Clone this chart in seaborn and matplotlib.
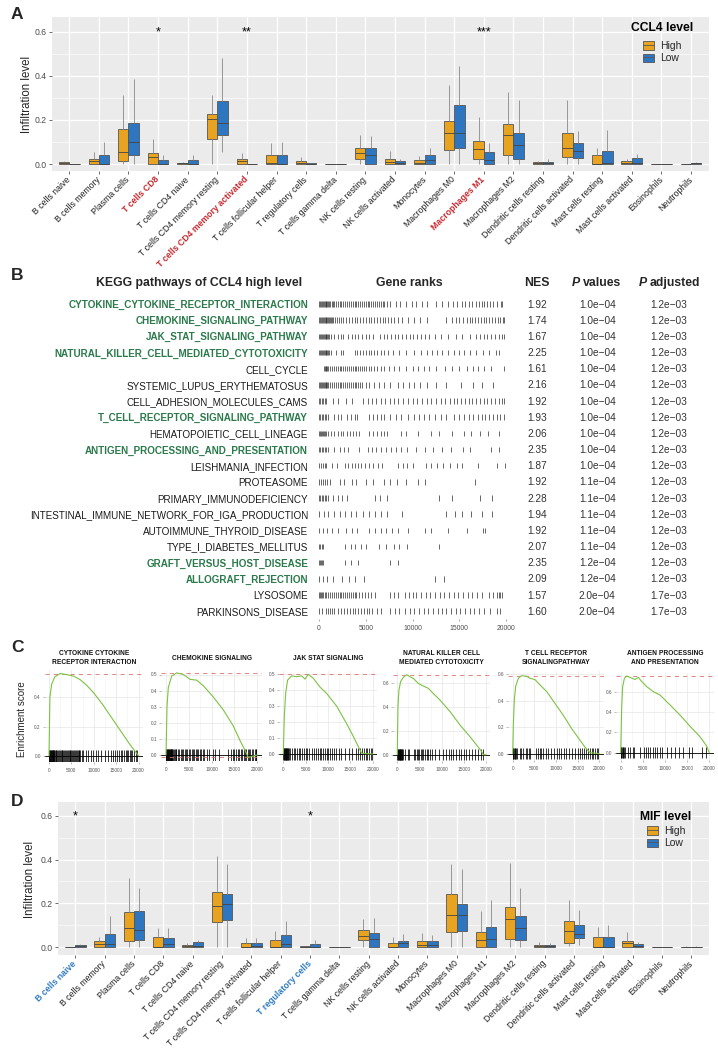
import numpy as np
import pandas as pd
import matplotlib
matplotlib.use("Agg")
import matplotlib.pyplot as plt
import seaborn as sns
from matplotlib.patches import Patch
from matplotlib.lines import Line2D
from matplotlib.transforms import blended_transform_factory

# ======================= DATA =======================
cells = ["B cells naive", "B cells memory", "Plasma cells", "T cells CD8", "T cells CD4 naive",
         "T cells CD4 memory resting", "T cells CD4 memory activated", "T cells follicular helper",
         "T regulatory cells", "T cells gamma delta", "NK cells resting", "NK cells activated",
         "Monocytes", "Macrophages M0", "Macrophages M1", "Macrophages M2",
         "Dendritic cells resting", "Dendritic cells activated", "Mast cells resting",
         "Mast cells activated", "Eosinophils", "Neutrophils"]

# five-number summaries (min, q1, median, q3, max)
ccl4_high = [[0, 0, 0.004, 0.01, 0.015], [0, 0, 0.012, 0.023, 0.055], [0, 0.014, 0.055, 0.16, 0.315],
             [0, 0, 0.032, 0.05, 0.115], [0, 0, 0.003, 0.006, 0.01], [0, 0.112, 0.203, 0.226, 0.315],
             [0, 0, 0.012, 0.021, 0.05], [0, 0, 0.005, 0.039, 0.095], [0, 0, 0.003, 0.015, 0.033],
             [0, 0, 0, 0, 0], [0, 0.024, 0.05, 0.074, 0.13], [0, 0, 0.011, 0.024, 0.058],
             [0, 0, 0.006, 0.017, 0.035], [0, 0.064, 0.142, 0.194, 0.357], [0, 0.024, 0.067, 0.105, 0.214],
             [0, 0.042, 0.133, 0.182, 0.326], [0, 0, 0.003, 0.008, 0.015], [0, 0.03, 0.071, 0.142, 0.29],
             [0, 0, 0, 0.039, 0.071], [0, 0, 0.005, 0.012, 0.024], [0, 0, 0, 0, 0], [0, 0, 0, 0, 0.001]]
ccl4_low = [[0, 0, 0, 0, 0], [0, 0, 0, 0.042, 0.1], [0, 0.042, 0.1, 0.186, 0.385],
            [0, 0, 0, 0.02, 0.04], [0, 0, 0, 0.02, 0.04], [0.055, 0.13, 0.188, 0.285, 0.483],
            [0, 0, 0, 0, 0.002], [0, 0, 0, 0.041, 0.1], [0, 0, 0.001, 0.003, 0.004],
            [0, 0, 0, 0, 0], [0, 0, 0.04, 0.074, 0.128], [0, 0, 0.006, 0.012, 0.024],
            [0, 0, 0.02, 0.04, 0.073], [0, 0.073, 0.142, 0.267, 0.447], [0, 0, 0.017, 0.053, 0.097],
            [0, 0.024, 0.088, 0.142, 0.29], [0, 0, 0.005, 0.011, 0.023], [0, 0.027, 0.06, 0.094, 0.15],
            [0, 0, 0.005, 0.06, 0.153], [0, 0, 0.006, 0.026, 0.044], [0, 0, 0, 0, 0], [0, 0.002, 0.004, 0.006, 0.008]]
ccl4_star_idx = [3, 6, 14]
ccl4_star_txt = ["*", "**", "***"]
ccl4_red_labels = [3, 6, 14]

mif_high = [[0, 0, 0, 0.001, 0.002], [0, 0, 0.015, 0.026, 0.047], [0, 0.026, 0.087, 0.162, 0.316],
            [0, 0, 0.002, 0.044, 0.087], [0, 0, 0.005, 0.011, 0.02], [0, 0.116, 0.189, 0.252, 0.418],
            [0, 0, 0, 0.02, 0.04], [0, 0, 0, 0.032, 0.072], [0, 0, 0.001, 0.003, 0.004],
            [0, 0, 0, 0, 0], [0, 0.031, 0.049, 0.076, 0.128], [0, 0, 0, 0.018, 0.046],
            [0, 0, 0.009, 0.027, 0.064], [0, 0.067, 0.148, 0.243, 0.38], [0, 0, 0.034, 0.069, 0.163],
            [0, 0.038, 0.128, 0.182, 0.385], [0, 0, 0.003, 0.011, 0.023], [0.005, 0.018, 0.072, 0.12, 0.215],
            [0, 0, 0, 0.046, 0.092], [0, 0, 0.018, 0.027, 0.067], [0, 0, 0, 0, 0], [0, 0.001, 0.002, 0.002, 0.003]]
mif_low = [[0, 0, 0.004, 0.009, 0.014], [0, 0, 0.015, 0.06, 0.14], [0, 0.032, 0.079, 0.165, 0.27],
           [0, 0.002, 0.014, 0.041, 0.087], [0, 0, 0.006, 0.021, 0.034], [0, 0.122, 0.197, 0.244, 0.38],
           [0, 0, 0.004, 0.02, 0.04], [0, 0, 0.015, 0.053, 0.12], [0, 0, 0.002, 0.015, 0.034],
           [0, 0, 0, 0, 0], [0, 0, 0.037, 0.066, 0.133], [0, 0, 0.02, 0.026, 0.061],
           [0, 0, 0.011, 0.027, 0.056], [0, 0.072, 0.145, 0.195, 0.359], [0, 0, 0.035, 0.09, 0.217],
           [0, 0.032, 0.087, 0.144, 0.27], [0, 0, 0.004, 0.009, 0.02], [0.008, 0.041, 0.06, 0.099, 0.168],
           [0, 0, 0, 0.046, 0.1], [0, 0, 0.005, 0.014, 0.024], [0, 0, 0, 0, 0], [0, 0.001, 0.002, 0.002, 0.003]]
mif_star_idx = [0, 8]
mif_star_txt = ["*", "*"]
mif_blue_labels = [0, 8]

kegg_pathways = ["CYTOKINE_CYTOKINE_RECEPTOR_INTERACTION", "CHEMOKINE_SIGNALING_PATHWAY",
                 "JAK_STAT_SIGNALING_PATHWAY", "NATURAL_KILLER_CELL_MEDIATED_CYTOTOXICITY",
                 "CELL_CYCLE", "SYSTEMIC_LUPUS_ERYTHEMATOSUS", "CELL_ADHESION_MOLECULES_CAMS",
                 "T_CELL_RECEPTOR_SIGNALING_PATHWAY", "HEMATOPOIETIC_CELL_LINEAGE",
                 "ANTIGEN_PROCESSING_AND_PRESENTATION", "LEISHMANIA_INFECTION", "PROTEASOME",
                 "PRIMARY_IMMUNODEFICIENCY", "INTESTINAL_IMMUNE_NETWORK_FOR_IGA_PRODUCTION",
                 "AUTOIMMUNE_THYROID_DISEASE", "TYPE_I_DIABETES_MELLITUS", "GRAFT_VERSUS_HOST_DISEASE",
                 "ALLOGRAFT_REJECTION", "LYSOSOME", "PARKINSONS_DISEASE"]
kegg_green = [0, 1, 2, 3, 7, 9, 16, 17]
kegg_nes = ["1.92", "1.74", "1.67", "2.25", "1.61", "2.16", "1.92", "1.93", "2.06", "2.35",
            "1.87", "1.92", "2.28", "1.94", "1.92", "2.07", "2.35", "2.09", "1.57", "1.60"]
kegg_pval = ["1.0e\u221204"] * 11 + ["1.1e\u221204"] * 5 + ["1.2e\u221204"] * 2 + ["2.0e\u221204"] * 2
kegg_padj = ["1.2e\u221203"] * 18 + ["1.7e\u221203"] * 2

# gene-rank positions (in thousands) of pathway members, read from the barcodes
hits_k = [
    [0, 0.1, 0.2, 0.3, 0.4, 0.5, 0.6, 0.7, 0.8, 0.9, 1.0, 1.1, 1.2, 1.35, 1.5, 1.65, 1.8, 2.0, 2.2, 2.4, 2.6, 2.8,
     3.0, 3.2, 3.4, 3.6, 3.8, 4.0, 4.2, 4.4, 4.6, 4.8, 5.0, 5.2, 5.4, 5.6, 5.8, 6.0, 6.2, 6.4, 6.6, 6.8, 7.0, 7.3,
     7.6, 8.2, 8.7, 9.3, 9.9, 10.4, 11.0, 11.6, 12.5, 13.2, 13.8, 14.3, 14.8, 15.3, 15.6, 16.0, 16.4, 16.8, 17.1,
     17.4, 17.7, 18.0, 18.3, 18.6, 19.0, 19.5, 19.6],
    [0, 0.1, 0.2, 0.3, 0.4, 0.5, 0.6, 0.7, 0.8, 0.9, 1.0, 1.1, 1.2, 1.3, 1.4, 1.5, 1.7, 1.9, 2.1, 2.3, 2.6, 2.9,
     3.2, 3.5, 3.8, 4.1, 4.4, 4.7, 5.0, 5.3, 5.6, 5.9, 6.2, 6.5, 6.8, 7.1, 7.4, 7.7, 8.0, 8.4, 8.9, 9.5, 10.2,
     10.8, 11.6, 13.6, 14.2, 14.6, 15.0, 15.4, 15.8, 16.1, 16.4, 16.7, 17.0, 17.3, 17.6, 17.9, 18.2, 18.5, 18.8,
     19.1, 19.4, 19.7, 19.8],
    [0, 0.1, 0.2, 0.3, 0.4, 0.5, 0.6, 0.7, 0.8, 0.9, 1.0, 1.1, 1.3, 1.6, 2.0, 2.3, 2.6, 3.1, 3.5, 3.8, 4.2, 4.6,
     5.0, 5.4, 5.8, 6.5, 6.9, 7.3, 7.7, 8.1, 8.5, 8.9, 9.3, 9.7, 10.1, 10.5, 10.9, 11.3, 11.8, 12.4, 13.0, 13.8,
     14.6, 15.3, 16.2, 16.8, 17.2, 17.6, 18.0, 18.4, 18.8, 19.2, 19.6, 19.8],
    [0, 0.1, 0.2, 0.3, 0.4, 0.5, 0.6, 0.7, 0.8, 0.9, 1.0, 1.1, 1.3, 1.8, 2.3, 2.6, 3.8, 4.1, 4.4, 4.7, 5.0, 5.3,
     5.6, 5.9, 6.2, 6.6, 7.0, 7.4, 7.9, 8.6, 9.3, 10.2, 10.9, 11.6, 12.1, 12.6, 13.2, 13.8, 14.4, 15.0, 15.5,
     16.2, 16.8, 17.5, 18.2, 18.9, 19.3],
    [0.5, 0.6, 0.7, 0.8, 0.9, 1.0, 1.2, 1.4, 1.6, 1.8, 2.0, 2.2, 2.4, 2.6, 2.8, 3.0, 3.2, 3.4, 3.6, 3.8, 4.0, 4.2,
     4.4, 4.6, 4.8, 5.0, 5.3, 5.6, 5.9, 6.2, 6.6, 7.0, 7.5, 8.0, 8.6, 9.3, 10.0, 10.6, 11.2, 11.8, 12.5, 13.5,
     14.2, 15.0, 15.8, 16.5, 17.0, 17.6, 18.4, 19.8],
    [0, 0.1, 0.2, 0.3, 0.4, 0.5, 0.6, 0.7, 0.8, 0.9, 1.0, 1.2, 1.4, 1.6, 1.8, 2.0, 2.2, 2.4, 2.6, 2.8, 3.0, 3.2,
     3.4, 3.6, 3.8, 4.0, 4.2, 4.4, 4.6, 5.0, 5.4, 5.9, 6.4, 7.0, 7.6, 8.5, 9.0, 9.6, 10.2, 10.8, 11.5, 12.5,
     13.6, 15.2, 16.5, 17.4, 18.6],
    [0, 0.15, 0.3, 0.45, 0.6, 0.8, 1.5, 2.0, 2.9, 3.5, 4.7, 5.2, 5.7, 6.1, 6.6, 7.1, 7.6, 8.0, 8.5, 9.0, 9.5,
     10.0, 10.5, 11.0, 11.5, 12.0, 12.5, 13.0, 13.5, 14.0, 14.4, 14.8, 15.2, 15.6, 16.0, 16.4, 16.8, 17.2, 17.6,
     18.0, 18.4, 18.8, 19.2, 19.6, 19.8],
    [0, 0.15, 0.3, 0.45, 0.6, 0.8, 1.0, 1.6, 2.0, 2.3, 3.0, 3.4, 3.8, 4.1, 5.3, 5.8, 6.2, 6.6, 7.0, 7.6, 8.2,
     8.8, 9.5, 10.2, 10.7, 11.2, 11.8, 12.4, 13.0, 13.6, 14.4, 15.0, 15.5, 16.0, 16.5, 17.0, 17.4, 17.8, 18.2,
     18.6, 19.0, 19.4, 19.8],
    [0, 0.1, 0.2, 0.3, 0.4, 0.5, 0.6, 0.8, 1.0, 1.3, 1.6, 2.0, 2.3, 2.6, 3.0, 3.3, 3.6, 4.0, 4.3, 5.4, 5.8, 6.2,
     6.6, 7.0, 7.3, 8.8, 9.3, 10.6, 12.0, 12.8, 14.2, 15.5, 16.3, 17.2, 18.1, 19.2],
    [0, 0.15, 0.3, 0.45, 0.6, 0.8, 1.0, 1.6, 2.2, 2.7, 3.1, 4.3, 5.2, 5.7, 6.1, 6.6, 7.2, 7.7, 8.2, 8.8, 9.4,
     10.4, 11.3, 12.2, 13.2, 14.1, 15.4, 16.2, 18.4, 19.2],
    [0, 0.2, 0.4, 0.6, 0.8, 1.4, 1.9, 2.8, 3.1, 3.5, 3.9, 4.2, 4.5, 4.9, 5.3, 5.8, 6.3, 6.7, 8.5, 9.0, 9.4,
     10.1, 11.4, 12.0, 12.6, 13.3, 14.0, 14.8, 15.3, 17.0, 19.0, 19.9],
    [0, 0.2, 0.4, 0.6, 0.9, 1.2, 2.2, 2.7, 3.5, 4.0, 5.0, 5.8, 7.0, 7.6, 8.3, 9.3, 10.6, 11.3, 16.7],
    [0, 0.15, 0.3, 0.45, 0.6, 0.8, 1.0, 1.5, 2.0, 2.5, 3.0, 6.0, 6.5, 7.3, 12.8, 14.2, 17.2, 18.5],
    [0, 0.5, 1.0, 1.6, 2.2, 2.8, 3.4, 4.0, 4.7, 5.4, 6.0, 6.6, 7.3, 8.9, 13.6, 14.5, 15.3, 16.3, 17.4, 18.5],
    [0, 0.4, 0.9, 1.4, 2.0, 2.9, 3.5, 4.1, 5.3, 6.0, 6.6, 7.2, 7.8, 8.4, 9.5, 11.3, 12.0, 13.8, 15.8, 17.5, 17.8],
    [0, 0.15, 0.3, 0.45, 2.8, 3.4, 3.9, 4.5, 5.0, 6.4, 7.2, 8.0, 8.6, 9.4, 12.8],
    [0, 0.1, 0.2, 0.3, 0.45, 2.8, 3.4, 4.2, 7.6, 8.4],
    [0, 0.4, 0.9, 1.5, 2.5, 3.2, 3.9, 4.8, 12.4, 13.4],
    [0, 0.1, 0.2, 0.3, 0.4, 0.6, 0.8, 1.0, 1.2, 1.4, 1.6, 1.8, 2.0, 2.2, 2.4, 2.6, 2.8, 3.0, 3.2, 3.4, 3.6, 3.8,
     4.0, 4.3, 4.6, 4.9, 5.2, 5.6, 6.0, 7.6, 8.0, 8.4, 9.2, 9.6, 10.0, 10.4, 10.9, 11.4, 11.9, 12.4, 12.9, 13.4,
     13.9, 14.4, 14.9, 15.4, 15.9, 16.4, 16.9, 17.4, 18.2, 18.6, 19.0, 19.2, 19.4, 19.6],
    [0, 0.3, 0.8, 1.0, 1.2, 1.4, 1.6, 2.0, 2.4, 2.7, 3.0, 3.3, 3.6, 3.9, 4.2, 4.5, 4.8, 5.1, 5.4, 5.7, 6.2, 6.6,
     7.6, 8.1, 8.6, 9.2, 9.7, 10.2, 10.7, 11.2, 11.7, 12.2, 12.7, 13.2, 13.6, 14.1, 14.6, 15.1, 15.6, 16.1, 16.6,
     17.1, 17.6, 18.3, 19.0, 19.4],
]

# GSEA running enrichment curves (rank, ES)
gsea_titles = ["CYTOKINE CYTOKINE\nRECEPTOR INTERACTION", "CHEMOKINE SIGNALING", "JAK STAT SIGNALING",
               "NATURAL KILLER CELL\nMEDIATED CYTOTOXICITY", "T CELL RECEPTOR\nSIGNALINGPATHWAY",
               "ANTIGEN PROCESSING\nAND PRESENTATION"]
gsea_pathway_idx = [0, 1, 2, 3, 7, 9]
gsea_rank = [
    [0, 200, 600, 1300, 2500, 4000, 5500, 7000, 8500, 10000, 12000, 14000, 16000, 18000, 19500, 20000],
    [0, 220, 510, 1240, 2340, 3800, 5260, 6720, 8180, 10370, 12560, 14750, 16210, 17300, 18030, 20000],
    [0, 224, 522, 970, 1865, 2984, 4100, 4850, 5600, 6710, 8200, 9700, 11940, 14170, 15670, 16790, 17530, 20000],
    [0, 150, 376, 752, 1354, 2106, 2858, 3610, 4738, 5866, 6994, 8122, 9626, 11882, 14138, 16394, 17898, 19026, 19400, 20000],
    [0, 154, 384, 692, 1300, 2075, 3230, 3990, 5150, 6300, 7840, 9770, 11690, 13610, 15150, 16690, 17840, 20000],
    [0, 226, 451, 827, 1354, 2106, 3234, 3986, 4738, 5866, 7370, 8874, 11130, 13386, 15642, 17898, 19402, 20000],
]
gsea_es = [
    [0, 0.40, 0.49, 0.54, 0.563, 0.555, 0.545, 0.52, 0.48, 0.43, 0.35, 0.26, 0.17, 0.08, 0.02, 0],
    [0, 0.30, 0.42, 0.49, 0.51, 0.50, 0.47, 0.465, 0.43, 0.36, 0.28, 0.18, 0.09, 0.03, -0.015, 0],
    [0, 0.234, 0.38, 0.464, 0.49, 0.485, 0.49, 0.47, 0.50, 0.475, 0.42, 0.38, 0.30, 0.19, 0.11, 0.046, 0.004, 0],
    [0, 0.40, 0.54, 0.61, 0.644, 0.667, 0.65, 0.636, 0.594, 0.572, 0.553, 0.51, 0.455, 0.36, 0.247, 0.15, 0.08, 0.025, 0, 0],
    [0, 0.23, 0.41, 0.51, 0.57, 0.59, 0.585, 0.57, 0.56, 0.52, 0.47, 0.38, 0.29, 0.19, 0.12, 0.05, 0.008, 0],
    [0, 0.45, 0.65, 0.73, 0.754, 0.74, 0.72, 0.74, 0.70, 0.65, 0.60, 0.567, 0.47, 0.37, 0.26, 0.157, 0.066, 0],
]
gsea_yticks = [[0, 0.2, 0.4], [0, 0.1, 0.2, 0.3, 0.4, 0.5], [0, 0.1, 0.2, 0.3, 0.4, 0.5],
               [0, 0.2, 0.4, 0.6], [0, 0.2, 0.4, 0.6], [0, 0.2, 0.4, 0.6]]

# ======================= STYLE / LAYOUT =======================
sns.set_theme(style="white")
plt.rcParams["font.family"] = ["Liberation Sans", "DejaVu Sans"]

W, H = 718, 1052
fig = plt.figure(figsize=(W / 100, H / 100), dpi=100)
fig.patch.set_facecolor("white")

HIGH = "#E8A321"
LOW = "#2E77C0"
EDGE = "#555555"
RED = "#C5282F"
BLUE = "#2F7BC0"
GREEN_TXT = "#2B7A4B"
CURVE = "#7DC243"


def add_ax(x0, y0, x1, y1):
    return fig.add_axes([x0 / W, 1 - y1 / H, (x1 - x0) / W, (y1 - y0) / H])


def px(x, y):
    return x / W, 1 - y / H


def box_panel(ax, high, low, ylim, star_idx, star_txt, lab_idx, lab_color):
    rows = []
    for i, c in enumerate(cells):
        for g, st in (("High", high[i]), ("Low", low[i])):
            for v in st:
                rows.append((c, g, v))
    df = pd.DataFrame(rows, columns=["cell", "group", "value"])
    sns.boxplot(data=df, x="cell", y="value", hue="group", order=cells, hue_order=["High", "Low"],
                palette={"High": HIGH, "Low": LOW}, saturation=1, width=0.7, gap=0,
                whis=(0, 100), linewidth=0.6, linecolor=EDGE, fliersize=0, legend=False, ax=ax,
                whiskerprops={"color": "#8a8a8a"}, capprops={"alpha": 0},
                medianprops={"color": "#444444"})
    ax.set_xlim(-0.6, 21.6)
    ax.set_ylim(*ylim)
    ax.set_facecolor("#EBEBEB")
    for s in ax.spines.values():
        s.set_visible(False)
    ax.set_axisbelow(True)
    ax.set_yticks([0, 0.2, 0.4, 0.6])
    ax.set_yticklabels(["0.0", "0.2", "0.4", "0.6"])
    ax.set_yticks([0.1, 0.3, 0.5], minor=True)
    ax.grid(True, which="major", color="white", lw=0.9)
    ax.grid(True, which="minor", axis="y", color="white", lw=0.45)
    ax.tick_params(which="minor", length=0)
    ax.tick_params(which="major", length=2.2, width=0.6, color="#555555", labelcolor="#4D4D4D",
                   labelsize=6.2, pad=1.5, left=True, bottom=True)
    ax.tick_params(axis="x", pad=3.0)
    ax.set_xticks(range(len(cells)))
    ax.set_xticklabels(cells, rotation=45, ha="right", va="center", rotation_mode="anchor",
                       fontsize=6.3, color="#222222")
    for i in lab_idx:
        lab = ax.get_xticklabels()[i]
        lab.set_color(lab_color)
        lab.set_fontweight("bold")
    ax.set_xlabel("")
    ax.set_ylabel("")
    for i, s in zip(star_idx, star_txt):
        ax.text(i, 0.582, s, ha="center", va="baseline", fontsize=9, color="black")


def legend_block(title, title_xy, top_y):
    fig.text(*px(*title_xy), title, ha="center", va="center", fontsize=8.7, fontweight="bold", color="black")
    handles = [(Patch(facecolor=HIGH, edgecolor=EDGE, lw=0.6), Line2D([], [], color=EDGE, lw=0.6)),
               (Patch(facecolor=LOW, edgecolor=EDGE, lw=0.6), Line2D([], [], color=EDGE, lw=0.6))]
    fig.legend(handles=handles, labels=["High", "Low"], loc="upper left",
               bbox_to_anchor=px(title_xy[0] - 19.5, top_y), bbox_transform=fig.transFigure,
               frameon=False, fontsize=7.5, handlelength=1.15, handleheight=0.85,
               handletextpad=0.55, labelspacing=0.22, borderpad=0, borderaxespad=0)


# ---------------- Panel A ----------------
axA = add_ax(51.5, 17, 708.8, 171)
box_panel(axA, ccl4_high, ccl4_low, (-0.0318, 0.668), ccl4_star_idx, ccl4_star_txt, ccl4_red_labels, RED)
fig.text(*px(27, 94), "Infiltration level", rotation=90, ha="center", va="center", fontsize=8.3)
legend_block("CCL4 level", (662, 28), 41)
fig.text(*px(11, 7), "A", fontsize=12.5, fontweight="bold", va="top", ha="left")

# ---------------- Panel B ----------------
fig.text(*px(11, 268), "B", fontsize=12.5, fontweight="bold", va="top", ha="left")
row0, rstep = 304.0, 16.17
axb = add_ax(319, row0 - 0.62 * rstep, 506, row0 + 19.49 * rstep)
axb.set_xlim(0, 20000)
axb.set_ylim(19.49, -0.62)
for i, hk in enumerate(hits_k):
    axb.vlines(np.array(hk) * 1000, i - 0.17, i + 0.17, color="#2a2a2a", lw=0.5, clip_on=False)
for s in axb.spines.values():
    s.set_visible(False)
axb.set_facecolor("white")
axb.grid(False)
axb.set_yticks(range(len(kegg_pathways)))
axb.set_yticklabels(kegg_pathways, fontsize=7.1)
for i, lab in enumerate(axb.get_yticklabels()):
    if i in kegg_green:
        lab.set_color(GREEN_TXT)
        lab.set_fontweight("bold")
    else:
        lab.set_color("#1a1a1a")
axb.tick_params(axis="y", length=0, pad=7.9)
axb.set_xticks([0, 5000, 10000, 15000, 20000])
axb.set_xticklabels(["0", "5000", "10000", "15000", "20000"])
axb.tick_params(axis="x", length=1.5, width=0.5, color="#888888", labelsize=4.9, labelcolor="#4D4D4D",
                pad=2.5, bottom=True)
tr = blended_transform_factory(fig.transFigure, axb.transData)
for i in range(len(kegg_pathways)):
    y = i + 0.22
    axb.text(537 / W, y, kegg_nes[i], transform=tr, ha="center", va="baseline", fontsize=7.3, color="#333333")
    axb.text(597.3 / W, y, kegg_pval[i], transform=tr, ha="center", va="baseline", fontsize=7.3, color="#333333")
    axb.text(668.3 / W, y, kegg_padj[i], transform=tr, ha="center", va="baseline", fontsize=7.3, color="#333333")
hy = 286
fig.text(*px(199, hy), "KEGG pathways of CCL4 high level", ha="center", va="baseline", fontsize=8.8, fontweight="bold")
fig.text(*px(409, hy), "Gene ranks", ha="center", va="baseline", fontsize=8.8, fontweight="bold")
fig.text(*px(536.7, hy), "NES", ha="center", va="baseline", fontsize=8.8, fontweight="bold")
fig.text(*px(571.7, hy), "P", ha="left", va="baseline", fontsize=8.8, fontweight="bold", fontstyle="italic")
fig.text(*px(583.3, hy), "values", ha="left", va="baseline", fontsize=8.8, fontweight="bold")
fig.text(*px(638.3, hy), "P", ha="left", va="baseline", fontsize=8.8, fontweight="bold", fontstyle="italic")
fig.text(*px(649.3, hy), "adjusted", ha="left", va="baseline", fontsize=8.8, fontweight="bold")

# ---------------- Panel C ----------------
fig.text(*px(11, 640), "C", fontsize=12.5, fontweight="bold", va="top", ha="left")
c_zero_x = [49.0, 166.0, 283.3, 397.3, 512.7, 620.7]
c_full_x = [138.5, 257.3, 372.7, 486.0, 599.3, 709.3]
c_zero_y = [755.7, 755.0, 754.0, 754.7, 753.7, 752.7]
c_ppu = [146.0, 161.0, 159.4, 120.0, 132.3, 101.7]
c_top = [670, 671, 671, 671, 671, 673]
c_bot = [762, 761, 761, 761, 760, 760]
for k in range(6):
    ppk = (c_full_x[k] - c_zero_x[k]) / 20.0
    x0 = c_zero_x[k] - ppk
    x1 = c_full_x[k] + ppk
    ax = add_ax(x0, c_top[k], x1, c_bot[k])
    ax.set_xlim(-1000, 21000)
    ax.set_ylim((c_zero_y[k] - c_bot[k]) / c_ppu[k], (c_zero_y[k] - c_top[k]) / c_ppu[k])
    ax.set_facecolor("white")
    for s in ax.spines.values():
        s.set_visible(False)
    ax.set_axisbelow(True)
    ax.set_xticks([0, 5000, 10000, 15000, 20000])
    ax.set_xticks([2500, 7500, 12500, 17500], minor=True)
    ax.set_yticks(gsea_yticks[k])
    ax.set_yticklabels(["%.1f" % v for v in gsea_yticks[k]])
    ax.grid(True, which="major", color="#E6E6E6", lw=0.5)
    ax.grid(True, which="minor", color="#F2F2F2", lw=0.4)
    ax.tick_params(which="minor", length=0)
    ax.tick_params(which="major", labelsize=3.4, length=1.5, width=0.4, color="#888888",
                   labelcolor="#555555", pad=1.2, left=True, bottom=True)
    ax.tick_params(axis="x", pad=3)
    es = np.array(gsea_es[k])
    emax, emin = es.max(), es.min()
    hits = np.array(hits_k[gsea_pathway_idx[k]]) * 1000
    hh = (emax - min(emin, 0)) / 14.0
    ax.vlines(hits, -hh, hh, color="black", lw=0.55)
    ax.axhline(0, color="black", lw=0.6)
    ax.axhline(emax, color="#E07070", lw=0.6, ls=(0, (5, 5)))
    if emin < 0:
        ax.axhline(emin, color="#E07070", lw=0.6, ls=(0, (5, 5)))
    df = pd.DataFrame({"rank": gsea_rank[k], "es": gsea_es[k]})
    sns.lineplot(data=df, x="rank", y="es", color=CURVE, lw=0.8, ax=ax)
    ax.set_xlabel("")
    ax.set_ylabel("")
    fig.text(*px((x0 + x1) / 2, 658), gsea_titles[k], ha="center", va="center", fontsize=4.8,
             fontweight="bold", linespacing=1.5, multialignment="center", color="#111111")
fig.text(*px(22.5, 719), "Enrichment score", rotation=90, ha="center", va="center", fontsize=7)

# ---------------- Panel D ----------------
fig.text(*px(11, 794), "D", fontsize=12.5, fontweight="bold", va="top", ha="left")
axD = add_ax(57.7, 802, 708.9, 955)
box_panel(axD, mif_high, mif_low, (-0.0366, 0.664), mif_star_idx, mif_star_txt, mif_blue_labels, BLUE)
fig.text(*px(30, 879), "Infiltration level", rotation=90, ha="center", va="center", fontsize=8.3)
legend_block("MIF level", (666, 817), 826)

fig.savefig("out.png", dpi=100, facecolor="white")
